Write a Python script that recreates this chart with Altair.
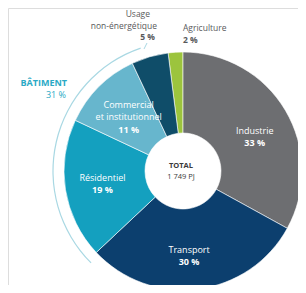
import altair as alt
import pandas as pd
import math

categories = ["Agriculture", "Industrie", "Transport", "Résidentiel",
              "Commercial et institutionnel", "Usage non-énergétique"]
values = [2, 33, 30, 19, 11, 5]
colors = ["#9cc43d", "#6d6e71", "#0c3f6e", "#14a0bf", "#67b6cd", "#0f4d69"]
name_line1 = ["", "", "", "", "Commercial", ""]
name_line2 = ["", "Industrie", "Transport", "Résidentiel", "et institutionnel", ""]
inner_pcts = ["", "33 %", "30 %", "19 %", "11 %", ""]

df = pd.DataFrame({
    "cat": categories,
    "value": values,
    "order": list(range(len(categories))),
    "l1": name_line1,
    "l2": name_line2,
    "pct": inner_pcts,
})
one = pd.DataFrame({"k": [0]})

CX, CY = 175, 163
R_OUT, R_IN = 119, 38
LBL_R = 81
FONT = "Open Sans"
FS = 9

start = -2 * math.pi * values[0] / 100  # first slice straddles 12 o'clock
theta_scale = alt.Scale(domain=[0, 100], range=[start, start + 2 * math.pi])

arcs = alt.Chart(df).mark_arc(radius=R_OUT, radius2=R_IN, stroke="white", strokeWidth=0.6).encode(
    theta=alt.Theta("value:Q", stack=True, scale=theta_scale),
    order=alt.Order("order:Q"),
    color=alt.Color("cat:N", scale=alt.Scale(domain=categories, range=colors), legend=None),
    x=alt.value(CX), y=alt.value(CY),
)

# label anchor: slice midpoint (cumulative share), nudged slightly clockwise
lbl = alt.Chart(df).transform_window(
    cum="sum(value)", sort=[alt.SortField("order")], frame=[None, 0]
).transform_calculate(
    mid="datum.cum - datum.value / 2 + 0.8",
).transform_filter("datum.pct != ''").encode(
    theta=alt.Theta("mid:Q", scale=theta_scale),
    x=alt.value(CX), y=alt.value(CY),
)
two = lbl.transform_filter("datum.l1 == ''")
three = lbl.transform_filter("datum.l1 != ''")

def txt(layer, field, dy, bold=False):
    return layer.mark_text(
        radius=LBL_R, font=FONT, fontSize=FS, color="white", baseline="middle",
        dy=dy, fontWeight="bold" if bold else "normal",
    ).encode(text=f"{field}:N")

inner = [
    txt(two, "l2", -2), txt(two, "pct", 10, True),
    txt(three, "l1", -6), txt(three, "l2", 6), txt(three, "pct", 19, True),
]

bracket = alt.Chart(one).mark_arc(radius=130.6, radius2=129.4, color="#a9d8e3").encode(
    theta=alt.value(math.radians(225)), theta2=alt.value(math.radians(341)),
    x=alt.value(CX), y=alt.value(CY))

leader = alt.Chart(one).mark_rule(color="#a9d8e3", strokeWidth=1).encode(
    x=alt.value(139), y=alt.value(35), x2=alt.value(136), y2=alt.value(41))

grey = "#58595b"

def note(text, x, y, align, bold=False, color=grey, size=8.5):
    return alt.Chart(one).mark_text(
        font=FONT, fontSize=size, color=color, align=align, baseline="middle",
        fontWeight="bold" if bold else "normal",
    ).encode(x=alt.value(x), y=alt.value(y), text=alt.value(text))

teal = "#2aa9c5"
notes = [
    note("Usage", 142, 6, "right"),
    note("non-énergétique", 149, 17.5, "right"),
    note("5 %", 147, 29, "right", bold=True),
    note("Agriculture", 175, 20, "left"),
    note("2 %", 175, 32, "left", bold=True),
    note("BÂTIMENT", 59, 75, "right", bold=True, color=teal, size=9),
    note("31 %", 58, 87, "right", color=teal, size=9),
    note("TOTAL", CX - 2, CY - 5, "center", bold=True, color="#3a3a3c", size=7.5),
    note("1 749 PJ", CX - 2, CY + 6, "center", color="#3a3a3c", size=7.5),
]

chart = alt.layer(
    arcs, *inner, bracket, leader, *notes
).properties(
    width=290, height=277, padding=0, autosize=alt.AutoSizeParams(type="none")
).configure_view(stroke=None).configure(background="white")

chart.save("out.html", embed_options={"renderer": "svg", "actions": False})
